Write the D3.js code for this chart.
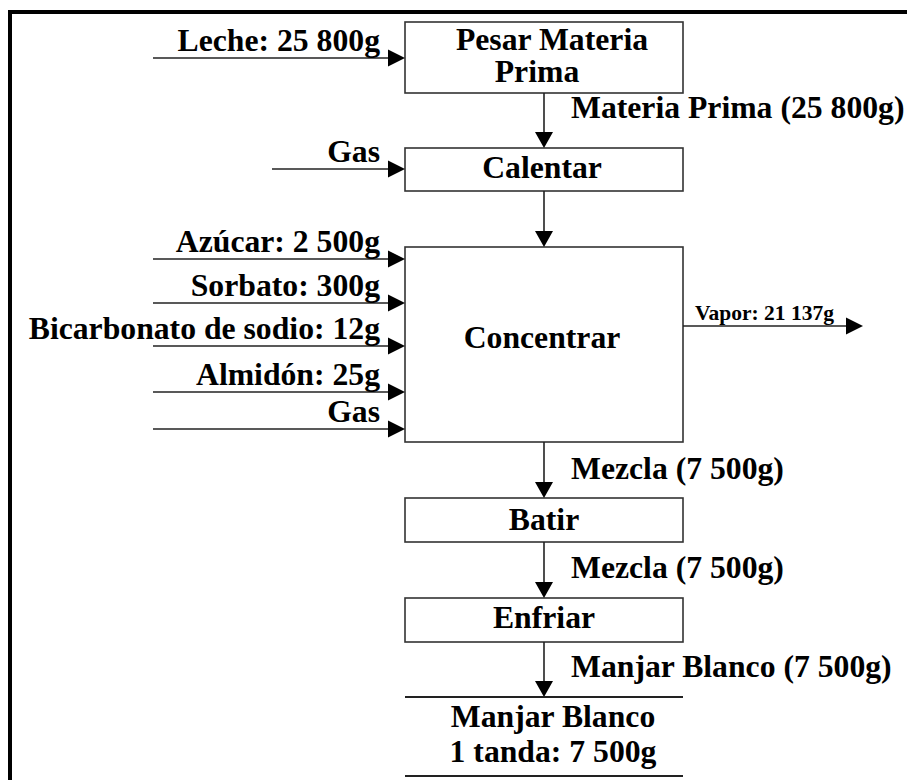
<!DOCTYPE html>
<html>
<head>
<meta charset="utf-8">
<title>Diagrama de flujo - Manjar Blanco</title>
<script src="https://cdnjs.cloudflare.com/ajax/libs/d3/7.8.5/d3.min.js"></script>
<style>
body { margin: 0; background: #fff; }
svg text {
  font-family: "Liberation Serif", "Times New Roman", serif;
  font-weight: bold;
  fill: #000;
}
.box { fill: none; stroke: #333; stroke-width: 1.6; }
.flow { stroke: #222; stroke-width: 1.6; fill: none; }
.head { fill: #000; }
</style>
</head>
<body>
<script>
// --- data ---
var steps = [["Pesar Materia", "Prima"], ["Calentar"], ["Concentrar"], ["Batir"], ["Enfriar"]];
var inputLabels = ["Leche: 25 800g", "Gas", "Azúcar: 2 500g", "Sorbato: 300g",
                   "Bicarbonato de sodio: 12g", "Almidón: 25g", "Gas"];
var inputStep = [0, 1, 2, 2, 2, 2, 2];
var flowLabels = ["Materia Prima (25 800g)", "", "Mezcla (7 500g)", "Mezcla (7 500g)", "Manjar Blanco (7 500g)"];
var outputLabel = "Vapor: 21 137g";
var productLines = ["Manjar Blanco", "1 tanda: 7 500g"];

// --- layout (pixels) ---
var width = 907, height = 780;
var boxX = 405, boxW = 278, cx = 544;
var rowTop = [22, 148, 247, 498, 598];
var rowBottom = [93, 191, 442, 542, 642];
var productTop = 697, productBottom = 776;
var inputY = [58, 169, 259, 303, 346, 392, 429];
var inputStart = [153, 272, 153, 153, 153, 153, 153];
var stepBase = [[50, 82], [178], [348], [530], [628]];
var stepX = [[552, 537], [542], [542], [544], [544]];
var flowBase = [118, 0, 479, 578, 677];
var fs = 31.7;

var svg = d3.select("body").append("svg")
    .attr("width", width)
    .attr("height", height);

// outer frame (runs off the page on the right and bottom)
svg.append("rect")
    .attr("x", 10).attr("y", 12)
    .attr("width", 940).attr("height", 820)
    .attr("fill", "none")
    .attr("stroke", "#000")
    .attr("stroke-width", 4);

function headRight(x, y) {
  svg.append("path").attr("class", "head")
    .attr("d", "M" + x + "," + y + "L" + (x - 17) + "," + (y - 8.5) + "L" + (x - 17) + "," + (y + 8.5) + "Z");
}
function headDown(x, y) {
  svg.append("path").attr("class", "head")
    .attr("d", "M" + x + "," + y + "L" + (x - 9) + "," + (y - 16) + "L" + (x + 9) + "," + (y - 16) + "Z");
}

// process boxes
svg.selectAll(".box")
    .data(steps)
  .enter().append("rect")
    .attr("class", "box")
    .attr("x", boxX)
    .attr("y", function(d, i) { return rowTop[i]; })
    .attr("width", boxW)
    .attr("height", function(d, i) { return rowBottom[i] - rowTop[i]; });

steps.forEach(function(lines, i) {
  lines.forEach(function(t, j) {
    svg.append("text")
      .attr("x", stepX[i][j])
      .attr("y", stepBase[i][j])
      .attr("text-anchor", "middle")
      .style("font-size", fs + "px")
      .text(t);
  });
});

// vertical flows between steps
steps.forEach(function(d, i) {
  var y0 = rowBottom[i];
  var y1 = i < steps.length - 1 ? rowTop[i + 1] : productTop;
  svg.append("line").attr("class", "flow")
    .attr("x1", cx).attr("x2", cx)
    .attr("y1", y0).attr("y2", y1 - 10);
  headDown(cx, y1);
  if (flowLabels[i]) {
    svg.append("text")
      .attr("x", 571)
      .attr("y", flowBase[i])
      .style("font-size", fs + "px")
      .text(flowLabels[i]);
  }
});

// inputs
inputLabels.forEach(function(t, i) {
  var y = inputY[i];
  svg.append("line").attr("class", "flow")
    .attr("x1", inputStart[i]).attr("x2", boxX - 10)
    .attr("y1", y).attr("y2", y);
  headRight(boxX, y);
  svg.append("text")
    .attr("x", 380)
    .attr("y", y - 7)
    .attr("text-anchor", "end")
    .style("font-size", fs + "px")
    .text(t);
});

// output: vapor
var vy = 326;
svg.append("line").attr("class", "flow")
  .attr("x1", boxX + boxW).attr("x2", 853)
  .attr("y1", vy).attr("y2", vy);
headRight(863, vy);
svg.append("text")
  .attr("x", 695)
  .attr("y", vy - 6)
  .style("font-size", "21.5px")
  .text(outputLabel);

// final product
[productTop, productBottom].forEach(function(y) {
  svg.append("line")
    .attr("x1", boxX).attr("x2", boxX + boxW)
    .attr("y1", y).attr("y2", y)
    .attr("stroke", "#222").attr("stroke-width", 2);
});
productLines.forEach(function(t, j) {
  svg.append("text")
    .attr("x", 553)
    .attr("y", [727, 762][j])
    .attr("text-anchor", "middle")
    .style("font-size", fs + "px")
    .text(t);
});
</script>
</body>
</html>
